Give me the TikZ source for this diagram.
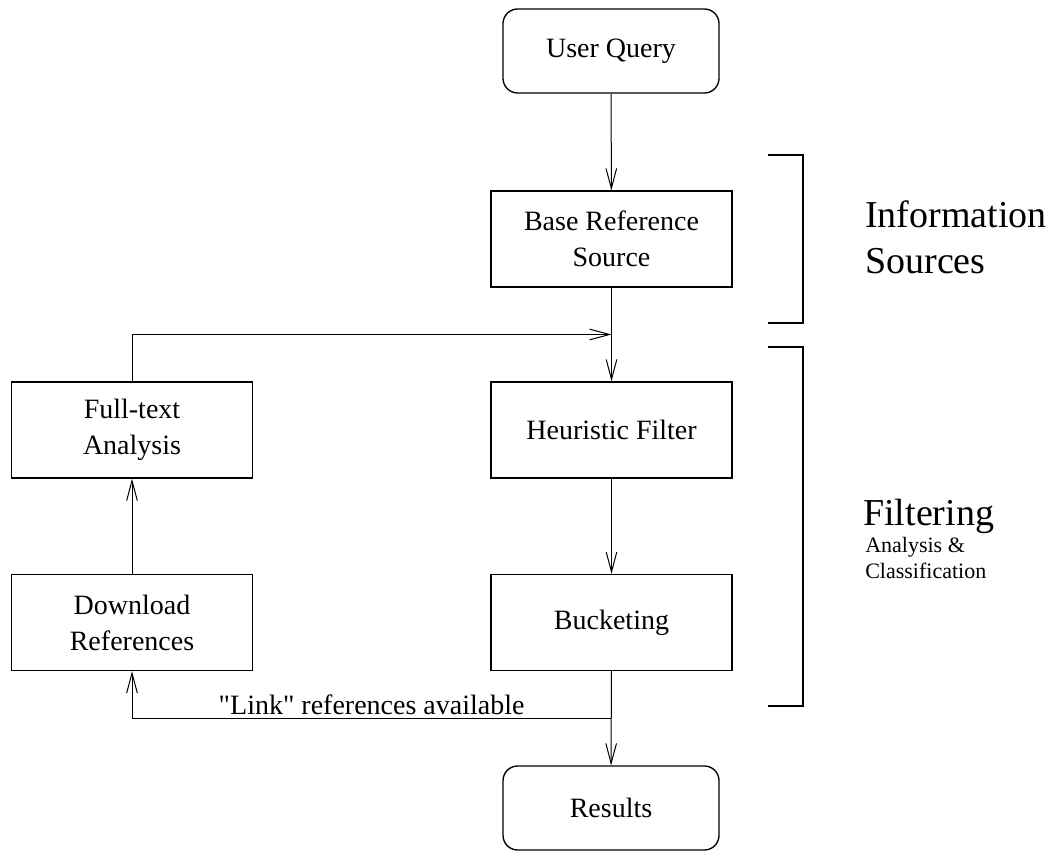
\documentclass[tikz,border=0pt]{standalone}
\usepackage{fontspec}
\setmainfont{Liberation Serif}[Ligatures=TeXOff]
\usetikzlibrary{arrows.meta,calc}

\begin{document}
\begin{tikzpicture}[x=0.75pt,y=-0.75pt,>={Straight Barb[length=15pt,width=8pt]},
    every node/.style={font=\fontsize{21}{27}\selectfont}]
    \tikzstyle{arr}=[->,line width=0.75pt]
    \tikzstyle{process}=[rectangle,draw,line width=1pt,minimum width=180.75pt,minimum height=72pt,align=center,inner sep=0pt]
    \tikzstyle{terminal}=[process,rounded corners=11pt,minimum width=162pt,minimum height=63pt]
    \tikzstyle{bracket}=[line width=2pt]
    \tikzstyle{big label}=[anchor=base west,inner sep=0pt,font=\fontsize{28.5}{34}\selectfont]
    \tikzstyle{small label}=[anchor=base west,inner sep=0pt,font=\fontsize{16.5}{20}\selectfont]
    \useasboundingbox (0,0) rectangle (1050,852);
    % Draw the main column
      \node[terminal] (Q) at (611,51) {User Query};
      \node[process] (B) at (611.5,239) {Base Reference\\Source};
      \node[process] (H) at (611.5,430) {Heuristic Filter};
      \node[process] (K) at (611.5,622.5) {Bucketing};
      \node[terminal] (R) at (611,808) {Results};
    % Draw the side column
      \node[process] (F) at (132,430) {Full-text\\Analysis};
      \node[process] (D) at (132,622.5) {Download\\References};
      \coordinate (M) at ($(B.south)!0.5!(H.north)$);
      \coordinate (L) at ($(K.south)!0.5!(R.north)$);

      \draw[arr] (Q) -- (B);
      \draw[arr] (B) -- (H);
      \draw[arr] (H) -- (K);
      \draw[arr] (K) -- (R);
      \draw[arr] (F.north) |- (M);
      \draw[arr] (D) -- (F);
      \draw[arr] (L) -| node[pos=0.25,above,yshift=-1pt] {"Link" references available} (D.south);
    % Brackets and group labels
      \draw[bracket] (768,155) -- (803,155) -- (803,323) -- (768,323);
      \draw[bracket] (768,347) -- (803,347) -- (803,706) -- (768,706);
      \node[big label] (I1) at (865,228) {Information};
      \node[big label] (I2) at (865,274) {Sources};
      \node[big label] (G1) at (863,525) {Filtering};
      \node[small label] (G2) at (865,552) {Analysis \&};
      \node[small label] (G3) at (865,578) {Classification};
\end{tikzpicture}
\end{document}
